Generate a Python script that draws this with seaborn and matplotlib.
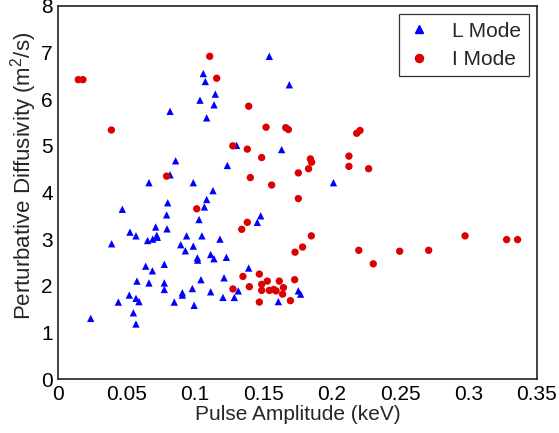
import matplotlib
matplotlib.use("Agg")
import matplotlib.pyplot as plt
import seaborn as sns
import pandas as pd
from matplotlib.lines import Line2D

l_x = [0.0237, 0.0390, 0.0439, 0.0468, 0.0519, 0.0524, 0.0549, 0.0568, 0.0568, 0.0568,
       0.0575, 0.0590, 0.0639, 0.0653, 0.0663, 0.0663, 0.0688, 0.0690, 0.0712, 0.0720,
       0.0724, 0.0775, 0.0775, 0.0775, 0.0792, 0.0795, 0.0800, 0.0817, 0.0817, 0.0848,
       0.0858, 0.0895, 0.0907, 0.0907, 0.0929, 0.0938, 0.0980, 0.0987, 0.0987, 0.0993,
       0.1017, 0.1019, 0.1029, 0.1036, 0.1043, 0.1050, 0.1060, 0.1068, 0.1075, 0.1085,
       0.1085, 0.1114, 0.1114, 0.1131, 0.1138, 0.1139, 0.1148, 0.1182, 0.1204, 0.1212,
       0.1229, 0.1236, 0.1287, 0.1304, 0.1316, 0.1392, 0.1455, 0.1480, 0.1543, 0.1609,
       0.1633, 0.1689, 0.1755, 0.1772, 0.2012]
l_y = [1.30, 2.90, 1.65, 3.64, 1.80, 3.15, 1.42, 1.18, 1.73, 3.07,
       2.10, 1.66, 2.42, 2.97, 2.06, 4.21, 2.32, 3.00, 3.26, 3.08,
       3.04, 2.46, 2.06, 1.92, 3.52, 3.22, 3.78, 4.38, 5.74, 1.65,
       4.68, 2.88, 1.85, 1.80, 2.75, 3.07, 1.94, 2.85, 4.21, 1.58,
       2.60, 2.55, 3.42, 5.98, 2.13, 3.07, 6.55, 3.69, 6.38, 3.85,
       5.60, 2.67, 1.87, 4.04, 2.58, 5.88, 6.11, 3.00, 1.75, 2.17,
       2.61, 4.58, 1.75, 5.01, 1.89, 2.38, 3.36, 3.50, 6.92, 1.66,
       4.92, 6.31, 1.89, 1.82, 4.21]

i_x = [0.0146, 0.0180, 0.0388, 0.0792, 0.1012, 0.1107, 0.1158, 0.1276, 0.1277, 0.1341,
       0.1350, 0.1382, 0.1382, 0.1392, 0.1397, 0.1404, 0.1470, 0.1470, 0.1487, 0.1487,
       0.1487, 0.1519, 0.1528, 0.1543, 0.1560, 0.1575, 0.1592, 0.1616, 0.1646, 0.1640,
       0.1663, 0.1682, 0.1697, 0.1728, 0.1731, 0.1755, 0.1755, 0.1786, 0.1830, 0.1843,
       0.1852, 0.1850, 0.2125, 0.2125, 0.2182, 0.2206, 0.2197, 0.2269, 0.2303, 0.2496,
       0.2708, 0.2974, 0.3278, 0.3358]
i_y = [6.42, 6.42, 5.34, 4.35, 3.65, 6.92, 6.45, 5.00, 1.93, 3.21,
       2.20, 4.93, 3.36, 5.85, 1.98, 4.32, 2.25, 1.65, 4.75, 2.03,
       1.90, 5.40, 2.10, 1.90, 4.16, 1.92, 1.89, 2.10, 1.96, 1.82,
       5.39, 5.35, 1.68, 2.13, 2.72, 4.42, 3.87, 2.83, 4.51, 4.72,
       4.65, 3.07, 4.78, 4.56, 5.27, 5.33, 2.76, 4.51, 2.47, 2.74,
       2.76, 3.07, 2.99, 2.99]

modes = ["L Mode", "I Mode"]
x_ticks = [0, 0.05, 0.1, 0.15, 0.2, 0.25, 0.3, 0.35]
x_tick_labels = ["0", "0.05", "0.1", "0.15", "0.2", "0.25", "0.3", "0.35"]
y_ticks = [0, 1, 2, 3, 4, 5, 6, 7, 8]

df = pd.DataFrame({
    "amp": l_x + i_x,
    "diff": l_y + i_y,
    "mode": [modes[0]] * len(l_x) + [modes[1]] * len(i_x),
})

sns.set_style("white")
plt.rcParams["font.family"] = ["Liberation Sans", "DejaVu Sans"]
plt.rcParams["mathtext.fontset"] = "custom"
plt.rcParams["mathtext.rm"] = "Liberation Sans"
plt.rcParams["mathtext.it"] = "Liberation Sans:italic"

fig = plt.figure(figsize=(5.59, 4.33), dpi=100)
ax = fig.add_axes([0.1043, 0.1247, 0.8563, 0.8615])

sns.scatterplot(data=df, x="amp", y="diff", hue="mode", style="mode",
                hue_order=modes, style_order=modes,
                palette={"L Mode": "#0000ff", "I Mode": "#dd0000"},
                markers={"L Mode": "^", "I Mode": "o"},
                s=28, linewidth=0, ax=ax, legend=False, zorder=3)

ax.set_xlim(0, 0.35)
ax.set_ylim(0, 8)
ax.set_xticks(x_ticks)
ax.set_xticklabels(x_tick_labels)
ax.set_yticks(y_ticks)
ax.tick_params(direction="in", length=4, width=0.8, color="#555555",
               labelsize=15, pad=4, labelcolor="black")
for sp in ax.spines.values():
    sp.set_color("#222222")
    sp.set_linewidth(1.2)
    sp.set_visible(True)

ax.set_xlabel("Pulse Amplitude (keV)", fontsize=15, labelpad=1)
ax.set_ylabel("Perturbative Diffusivity (m$^2$/s)", fontsize=16)
ax.yaxis.set_label_coords(-0.040, 0.545)

handles = [Line2D([], [], marker="^", color="#0000ff", linestyle="none", markersize=5.5),
           Line2D([], [], marker="o", color="#dd0000", linestyle="none", markersize=5.8)]
leg = ax.legend(handles, modes, loc="upper right", fontsize=15, frameon=True,
                fancybox=False, edgecolor="#333333", framealpha=1,
                borderaxespad=0.4, handletextpad=1.0, borderpad=0.35,
                labelspacing=0.45, handlelength=1.2)
leg.get_frame().set_linewidth(0.9)

fig.savefig("out.png", dpi=100)
